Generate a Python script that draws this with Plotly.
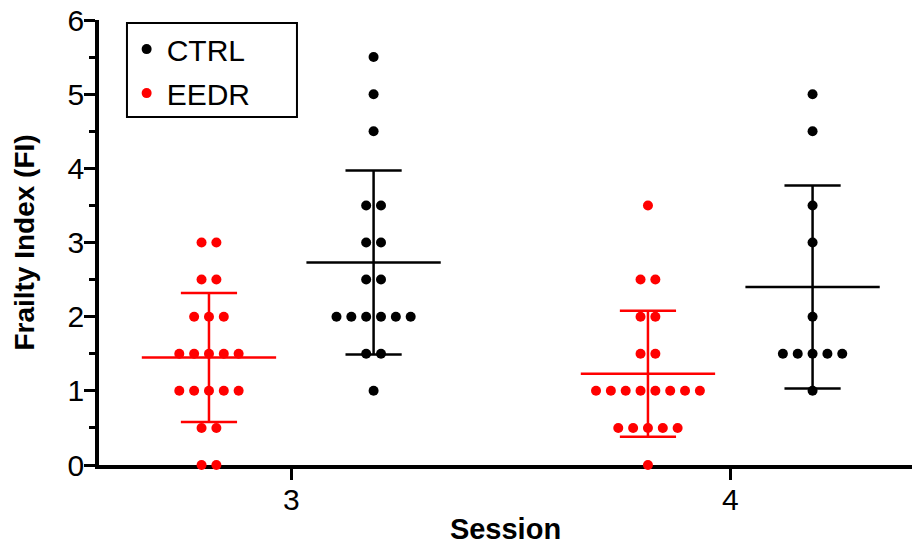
import plotly.graph_objects as go
from collections import Counter

# ---------------- data ----------------
sessions = [3, 4]
session_labels = ["3", "4"]

ctrl_s3 = [5.5, 5, 4.5, 3.5, 3.5, 3, 3, 2.5, 2.5, 2, 2, 2, 2, 2, 2, 1.5, 1.5, 1]
ctrl_s4 = [5, 4.5, 3.5, 3, 2, 1.5, 1.5, 1.5, 1.5, 1.5, 1]
eedr_s3 = [3, 3, 2.5, 2.5, 2, 2, 2, 1.5, 1.5, 1.5, 1.5, 1.5,
           1, 1, 1, 1, 1, 0.5, 0.5, 0, 0]
eedr_s4 = [3.5, 2.5, 2.5, 2, 2, 1.5, 1.5, 1, 1, 1, 1, 1, 1, 1, 1,
           0.5, 0.5, 0.5, 0.5, 0.5, 0]

ctrl_mean = [2.73, 2.40]
ctrl_sd = [1.24, 1.37]
eedr_mean = [1.45, 1.23]
eedr_sd = [0.87, 0.85]

# ---------------- style ----------------
RED = "#ff0000"
BLACK = "#000000"
GROUP_OFFSET = 0.1875
DOT_STEP = 0.0338
MEAN_HALF = 0.153
CAP_HALF = 0.064
FONT = "Liberation Sans, Arial, sans-serif"


def swarm(values, center):
    counts = Counter(values)
    seen = Counter()
    xs, ys = [], []
    for v in values:
        n = counts[v]
        i = seen[v]
        seen[v] += 1
        xs.append(center + (i - (n - 1) / 2) * DOT_STEP)
        ys.append(v)
    return xs, ys


def err_lines(centers, means, sds):
    xs, ys = [], []
    for c, m, s in zip(centers, means, sds):
        xs += [c - MEAN_HALF, c + MEAN_HALF, None]
        ys += [m, m, None]
        xs += [c, c, None]
        ys += [m - s, m + s, None]
        xs += [c - CAP_HALF, c + CAP_HALF, None]
        ys += [m + s, m + s, None]
        xs += [c - CAP_HALF, c + CAP_HALF, None]
        ys += [m - s, m - s, None]
    return xs, ys


fig = go.Figure()

ctrl_centers = [s + GROUP_OFFSET for s in sessions]
eedr_centers = [s - GROUP_OFFSET for s in sessions]

cx, cy = [], []
for vals, c in zip([ctrl_s3, ctrl_s4], ctrl_centers):
    x, y = swarm(vals, c)
    cx += x
    cy += y
ex, ey = [], []
for vals, c in zip([eedr_s3, eedr_s4], eedr_centers):
    x, y = swarm(vals, c)
    ex += x
    ey += y

lx, ly = err_lines(ctrl_centers, ctrl_mean, ctrl_sd)
fig.add_trace(go.Scatter(x=lx, y=ly, mode="lines", line=dict(color=BLACK, width=2.5),
                         showlegend=False, hoverinfo="skip", cliponaxis=False))
lx, ly = err_lines(eedr_centers, eedr_mean, eedr_sd)
fig.add_trace(go.Scatter(x=lx, y=ly, mode="lines", line=dict(color=RED, width=2.5),
                         showlegend=False, hoverinfo="skip", cliponaxis=False))

fig.add_trace(go.Scatter(x=cx, y=cy, mode="markers", name="CTRL", legendgroup="ctrl",
                         marker=dict(color=BLACK, size=10), cliponaxis=False))
fig.add_trace(go.Scatter(x=ex, y=ey, mode="markers", name="EEDR", legendgroup="eedr",
                         marker=dict(color=RED, size=10), cliponaxis=False))

# legend frame (drawn as a shape so its width matches the reference box)
fig.add_shape(type="rect", xref="paper", yref="paper",
              x0=0.0344, x1=0.2435, y0=0.782, y1=0.9933,
              line=dict(color=BLACK, width=2), fillcolor="rgba(0,0,0,0)", layer="above")

fig.update_layout(
    width=912, height=546,
    margin=dict(l=99, r=0, t=20, b=81),
    plot_bgcolor="white", paper_bgcolor="white",
    font=dict(family=FONT, color=BLACK),
    legend=dict(x=0.034, y=0.993, xanchor="left", yanchor="top",
                borderwidth=0, bgcolor="rgba(0,0,0,0)",
                font=dict(size=30, family=FONT), itemsizing="trace",
                tracegroupgap=2),
)

fig.update_xaxes(
    range=[2.562, 4.414],
    tickvals=sessions, ticktext=session_labels,
    ticks="outside", ticklen=11, tickwidth=3, tickcolor=BLACK,
    showline=True, linewidth=3.5, linecolor=BLACK,
    showgrid=False, zeroline=False,
    tickfont=dict(size=30, family=FONT),
    ticklabelstandoff=-6,
    title=dict(text="<b>Session</b>", font=dict(size=29, family=FONT), standoff=5),
    layer="below traces",
)
fig.update_yaxes(
    range=[0, 6],
    tickvals=[0, 1, 2, 3, 4, 5, 6],
    ticks="outside", ticklen=11, tickwidth=3, tickcolor=BLACK,
    minor=dict(tickvals=[0.5, 1.5, 2.5, 3.5, 4.5, 5.5], ticks="outside",
               ticklen=6, tickwidth=3, tickcolor=BLACK),
    showline=True, linewidth=3.5, linecolor=BLACK,
    showgrid=False, zeroline=False,
    tickfont=dict(size=30, family=FONT),
    ticklabelstandoff=-6,
    title=dict(text="<b>Frailty Index (FI)</b>", font=dict(size=28, family=FONT), standoff=26),
    layer="below traces",
)

fig.write_html("out.html")
